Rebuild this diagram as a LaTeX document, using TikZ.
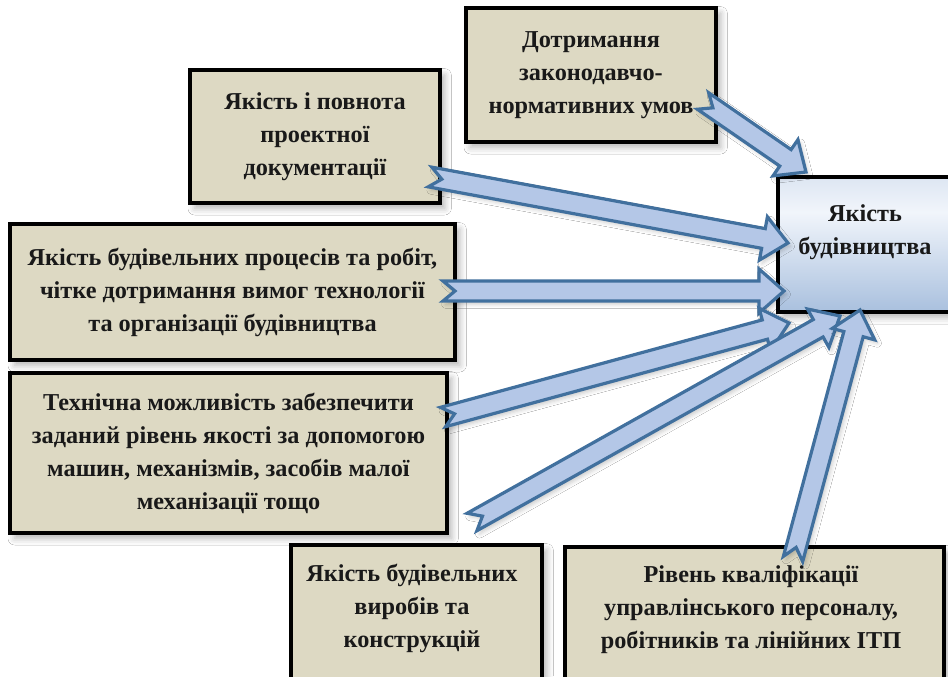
\documentclass[tikz,border=0pt]{standalone}
\usepackage{fontspec}
\setmainfont{Liberation Serif}
\usetikzlibrary{calc,shadows.blur}
\definecolor{boxfill}{HTML}{DDD9C3}
\definecolor{arrfill}{HTML}{B4C7E7}
\definecolor{arrline}{HTML}{41709E}
\definecolor{ctop}{HTML}{DDE6F2}
\definecolor{cmid}{HTML}{F1F5FB}
\definecolor{cbot}{HTML}{A9C0DE}
\pgfdeclareverticalshading{resshade}{100bp}{color(0bp)=(cbot); color(25bp)=(cbot); color(62bp)=(cmid); color(75bp)=(ctop); color(100bp)=(ctop)}

\tikzset{
  box/.style={draw=black, line width=3pt, fill=boxfill, inner sep=0pt,
    blur shadow={shadow xshift=3.5pt, shadow yshift=-4pt, shadow blur radius=5pt, shadow opacity=30}},
  txt/.style={align=center, font=\fontsize{18.2}{24.75}\selectfont\bfseries, text=black!90},
  blockarrow/.style={draw=arrline, fill=arrfill, line width=2.4pt, line join=miter,
    blur shadow={shadow xshift=2pt, shadow yshift=-2.5pt, shadow blur radius=3pt, shadow opacity=20}},
}

% notched block arrow from #1 (tail) to #2 (tip)
\newcommand\notcharrow[2]{%
  \coordinate (hb) at ($(#2)!18.75pt!(#1)$);
  \draw[blockarrow]
    ($(#1)!7.5pt!90:(#2)$) -- ($(#1)!9pt!(#2)$) -- ($(#1)!7.5pt!-90:(#2)$)
    -- ($(hb)!7.5pt!90:(#1)$) -- ($(hb)!16.5pt!90:(#1)$) -- (#2)
    -- ($(hb)!16.5pt!-90:(#1)$) -- ($(hb)!7.5pt!-90:(#1)$) -- cycle;}

\begin{document}
\begin{tikzpicture}[x=0.75pt, y=-0.75pt]
  \fill[white] (0,0) rectangle (948,676);
  \useasboundingbox (0,0) rectangle (948,676);

  % factor boxes
  \node[box, txt, minimum width=187.5pt, minimum height=100.5pt] (law) at (591,75)
    {Дотримання\\законодавчо-\\нормативних умов};
  \node[box, txt, minimum width=187.5pt, minimum height=99.75pt] (docs) at (315,136.5)
    {Якість і повнота\\проектної\\документації};
  \node[box, txt, minimum width=333.75pt, minimum height=102pt] (proc) at (232.5,292)
    {Якість будівельних процесів та робіт,\\чітке дотримання вимог технології\\та організації будівництва};
  \node[box, txt, minimum width=327.75pt, minimum height=120pt] (tech) at (228.5,453)
    {Технічна можливість забезпечити\\заданий рівень якості за допомогою\\машин, механізмів, засобів малої\\механізації тощо};

  \node[box, minimum width=188.25pt, minimum height=120pt, anchor=north west] (prod) at (289,543) {};
  \node[txt] (prodtext) at (412,608) {Якість будівельних\\виробів та\\конструкцій};

  \node[box, minimum width=284.25pt, minimum height=120pt, anchor=north west] (qual) at (563,545) {};
  \node[txt] (qualtext) at (751,610) {Рівень кваліфікації\\управлінського персоналу,\\робітників та лінійних ІТП};

  % result box
  \node[box, shading=resshade, minimum width=135pt, minimum height=101.25pt, anchor=north west] (res) at (776,175) {};
  \node[txt] (restext) at (865,232) {Якість\\будівництва};

  % arrow ends
  \coordinate (t1) at (703,101);  \coordinate (h1) at (806,172);
  \coordinate (t2) at (430,177);  \coordinate (h2) at (788,243);
  \coordinate (t3) at (443,291);  \coordinate (h3) at (784,291);
  \coordinate (t4) at (443,417);  \coordinate (h4) at (789,323);
  \coordinate (t5) at (472,522);  \coordinate (h5) at (840,316);
  \coordinate (t6) at (793,559);  \coordinate (h6) at (860,310);

  \notcharrow{t1}{h1}
  \notcharrow{t2}{h2}
  \notcharrow{t3}{h3}
  \notcharrow{t4}{h4}
  \notcharrow{t5}{h5}
  \notcharrow{t6}{h6}
\end{tikzpicture}
\end{document}
